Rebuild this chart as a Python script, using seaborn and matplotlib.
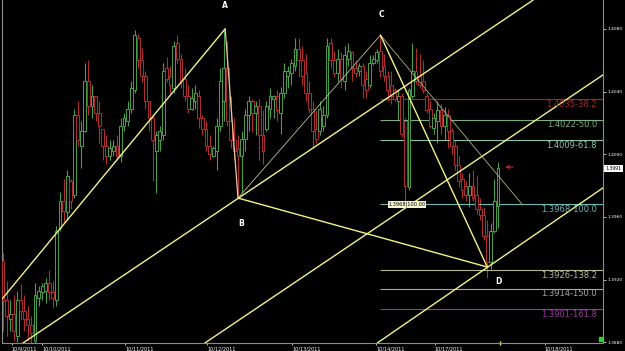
import numpy as np
import pandas as pd
import matplotlib
matplotlib.use("Agg")
import matplotlib.pyplot as plt
import matplotlib.transforms as mtransforms
import seaborn as sns
from matplotlib import font_manager

# ---------------- data (prices in 1e-4 units) ----------------
open_px = np.array([
    13932, 13907, 13895, 13898, 13884, 13907, 13900, 13895, 13891, 13881,
    13908, 13912, 13913, 13918, 13912, 13907, 13953, 13970, 13963, 13983,
    13974, 14025, 14005, 14015, 14047, 14031, 14037, 14026, 14016, 14005,
    13999, 14002, 14005, 13999, 14018, 14021, 14029, 14041, 14074, 14060,
    14050, 14034, 14023, 14002, 14009, 14012, 14055, 14050, 14042, 14071,
    14061, 14048, 14037, 14029, 14034, 14037, 14023, 14016, 14005, 13999,
    14002, 14018, 14034, 14055, 14021, 14009, 14004, 13999, 14010, 14025,
    14034, 14026, 14031, 14012, 14016, 14029, 14035, 14037, 14026, 14039,
    14050, 14052, 14056, 14067, 14060, 14052, 14039, 14029, 14016, 14015,
    14018, 14025, 14071, 14060, 14052, 14061, 14047, 14061, 14065, 14055,
    14053, 14056, 14048, 14044, 14058, 14060, 14066, 14056, 14050, 14044,
    14041, 14034, 14037, 14021, 13979, 14037, 14053, 14050, 14047, 14037,
    14029, 14017, 14021, 14028, 14018, 14025, 14015, 14005, 13993, 13984,
    13980, 13974, 13980, 13974, 13965, 13961, 13948, 13931, 13951, 13967]) / 1e4

close_px = np.array([
    13907, 13897, 13898, 13887, 13907, 13900, 13895, 13891, 13886, 13910,
    13913, 13916, 13918, 13912, 13908, 13951, 13970, 13964, 13986, 13970,
    14025, 14009, 14015, 14047, 14031, 14037, 14026, 14018, 14005, 13999,
    14004, 14005, 13999, 14018, 14023, 14029, 14042, 14076, 14060, 14050,
    14034, 14023, 14009, 14012, 14015, 14053, 14048, 14044, 14069, 14061,
    14047, 14037, 14029, 14036, 14039, 14023, 14016, 14005, 14000, 14004,
    14018, 14047, 14055, 14021, 14009, 14002, 13999, 14010, 14025, 14034,
    14026, 14031, 14012, 14002, 14031, 14037, 14037, 14028, 14039, 14053,
    14053, 14058, 14067, 14060, 14050, 14039, 14029, 14015, 14010, 14029,
    14025, 14069, 14060, 14052, 14061, 14048, 14063, 14066, 14055, 14052,
    14056, 14044, 14041, 14058, 14061, 14065, 14053, 14050, 14041, 14037,
    14035, 14037, 14013, 13980, 14041, 14053, 14047, 14044, 14041, 14028,
    14018, 14023, 14028, 14018, 14025, 14015, 14005, 13993, 13983, 13977,
    13974, 13980, 13972, 13965, 13961, 13948, 13931, 13951, 13970, 13991]) / 1e4

high_px = np.array([
    13937, 13919, 13907, 13910, 13913, 13917, 13910, 13903, 13897, 13918,
    13916, 13918, 13921, 13926, 13919, 13954, 13976, 13984, 13990, 13984,
    14029, 14034, 14021, 14058, 14060, 14044, 14037, 14034, 14016, 14012,
    14009, 14009, 14012, 14023, 14026, 14034, 14047, 14079, 14077, 14068,
    14053, 14034, 14025, 14015, 14018, 14058, 14062, 14056, 14072, 14076,
    14064, 14055, 14044, 14042, 14044, 14041, 14025, 14021, 14012, 14005,
    14023, 14055, 14080, 14072, 14037, 14023, 14012, 14015, 14029, 14037,
    14035, 14034, 14035, 14028, 14034, 14042, 14038, 14041, 14043, 14058,
    14056, 14061, 14074, 14074, 14069, 14064, 14047, 14034, 14028, 14034,
    14031, 14074, 14074, 14066, 14067, 14065, 14069, 14071, 14066, 14060,
    14058, 14058, 14053, 14063, 14063, 14067, 14076, 14064, 14053, 14053,
    14042, 14041, 14039, 14023, 14042, 14071, 14068, 14064, 14060, 14039,
    14034, 14026, 14034, 14032, 14030, 14029, 14017, 14009, 13999, 13988,
    13983, 13988, 13990, 13986, 13972, 13966, 13958, 13956, 13984, 13995]) / 1e4

low_px = np.array([
    13887, 13884, 13887, 13881, 13880, 13894, 13887, 13881, 13878, 13878,
    13903, 13907, 13905, 13907, 13902, 13903, 13951, 13956, 13958, 13965,
    13972, 14005, 13991, 14014, 14025, 14023, 14021, 14007, 13996, 13994,
    13996, 13999, 13996, 13995, 14015, 14018, 14026, 14039, 14055, 14046,
    14029, 14015, 13983, 13975, 14002, 14009, 14046, 14039, 14039, 14058,
    14042, 14034, 14026, 14028, 14029, 14017, 14012, 14002, 13996, 13998,
    13990, 14015, 14021, 14018, 14004, 13996, 13972, 13975, 14002, 14015,
    14014, 14012, 13996, 13994, 14015, 14023, 14023, 14021, 14013, 14036,
    14042, 14044, 14053, 14049, 14044, 14034, 14026, 14004, 14007, 14012,
    14015, 14023, 14055, 14049, 14047, 14042, 14041, 14056, 14047, 14049,
    14050, 14036, 14036, 14042, 14057, 14058, 14049, 14047, 14034, 14032,
    14034, 14021, 14011, 13969, 13977, 14036, 14045, 14042, 14039, 14026,
    14017, 14013, 14007, 14013, 14009, 14004, 14000, 13990, 13979, 13972,
    13970, 13966, 13970, 13962, 13958, 13945, 13921, 13927, 13950, 13953]) / 1e4

date_labels = ["10/9/2011", "10/10/2011", "10/11/2011", "10/12/2011",
               "10/13/2011", "10/14/2011", "10/17/2011", "10/18/2011"]
date_pos = [2.5, 11.0, 34.3, 57.3, 81.2, 104.8, 121.3, 152.2]
price_ticks = [1.4080, 1.4040, 1.4000, 1.3960, 1.3920, 1.3880]

# harmonic pattern points (bar index, price)
pattern_names = ["A", "B", "C", "D"]
pattern_idx = [62.4, 66.0, 106.0, 136.0]
pattern_price = [1.4080, 1.3972, 1.4076, 1.3928]

# fibonacci extension levels
fib_ratios = ["38.2", "50.0", "61.8", "100.0", "138.2", "150.0", "161.8"]
fib_prices = [1.4035, 1.4022, 1.4009, 1.3968, 1.3926, 1.3914, 1.3901]
fib_colors = ["#a02828", "#7fae7f", "#8fc0b0", "#6fb8b8", "#b8b890", "#a8a8a8", "#9a3a9a"]
fib_start = 106

# trend / channel lines: (bar indices, prices)
xa_line = ([-0.84, 62.4], [1.3906, 1.4080])
chan_mid = ([5.6, 148.9], [1.38795, 1.40984])
chan_low = ([56.7, 168.5], [1.38795, 1.40506])
chan_d = ([105.1, 168.5], [1.38795, 1.39785])
c_line = ([106.0, 145.8], [1.4076, 1.3968])

last_price = 1.3991

# ---------------- style ----------------
sns.set_theme(style="dark", rc={"axes.facecolor": "black", "figure.facecolor": "black"})
plt.rcParams["font.family"] = ["DejaVu Sans"]

fig = plt.figure(figsize=(6.25, 3.51), dpi=100, facecolor="black")
ax = fig.add_axes([2 / 625, 8 / 351, 601 / 625, 343 / 351])
ax.set_facecolor("black")
ax.set_xlim(-0.28, 168.5)
ax.set_ylim(1.38795, 1.40984)

# ---------------- candles ----------------
idx = np.arange(len(open_px))
up = close_px >= open_px
green = "#4aa04a"
red = "#b02e2e"
cols = np.where(up, green, red)
hi = np.maximum(high_px, np.maximum(open_px, close_px))
lo = np.minimum(low_px, np.minimum(open_px, close_px))
ax.vlines(idx, lo, hi, colors=cols, linewidth=0.8, zorder=2)
body_bottom = np.minimum(open_px, close_px)
body_h = np.maximum(np.abs(close_px - open_px), 0.00006)
ax.bar(idx, body_h, bottom=body_bottom, width=0.8, color="black",
       edgecolor=cols, linewidth=0.7, zorder=3)

# ---------------- lines ----------------
yellow = "#f2f28a"
def seg(xs, ys, color, lw, z=4):
    d = pd.DataFrame({"x": xs, "y": ys})
    sns.lineplot(data=d, x="x", y="y", ax=ax, color=color, linewidth=lw,
                 estimator=None, sort=False, zorder=z)

seg(*xa_line, yellow, 1.0)
seg(*chan_mid, yellow, 1.0)
seg(*chan_low, yellow, 1.0)
seg(*chan_d, yellow, 1.0)
seg(*c_line, "#b0b080", 0.6)
# pattern legs
pA, pB, pC, pD = [(pattern_idx[k], pattern_price[k]) for k in range(4)]
seg([pA[0], pB[0]], [pA[1], pB[1]], "#e8c8a0", 0.9)
seg([pB[0], pC[0]], [pB[1], pC[1]], "#c0c098", 0.6)
seg([pC[0], pD[0]], [pC[1], pD[1]], yellow, 1.0)
seg([pB[0], pD[0]], [pB[1], pD[1]], yellow, 1.0)

# ---------------- fib levels ----------------
xmax = ax.get_xlim()[1]
tr_right = mtransforms.blended_transform_factory(ax.transAxes, ax.transData)
avail = {f.name for f in font_manager.fontManager.ttflist}
narrow = "Liberation Sans Narrow" if "Liberation Sans Narrow" in avail else "DejaVu Sans"
for r, p, c in zip(fib_ratios, fib_prices, fib_colors):
    ax.hlines(p, fib_start, xmax, colors=c, linewidth=0.8, zorder=2)
    ax.text(0.99, p - 0.00003, f"{p:.4f}-{r}", transform=tr_right, ha="right", va="top",
            color=c, fontsize=7.5 if narrow != "DejaVu Sans" else 6, family=narrow, zorder=5)

ax.text(113.5, 1.3968, "1.3968|100.00", fontsize=3.6, color="black", ha="center", va="center",
        bbox=dict(boxstyle="square,pad=0.15", facecolor="#f4f4d2", edgecolor="none"), zorder=6)

# pattern labels
offs = {"A": (0, 23), "B": (3, -25), "C": (1, 21), "D": (11, -14)}
for n, xi, pi in zip(pattern_names, pattern_idx, pattern_price):
    ax.annotate(n, (xi, pi), xytext=offs[n], textcoords="offset pixels", color="white",
                fontsize=5.5, fontweight="bold", ha="center", va="center", zorder=6)

# current price marker
ax.annotate("", xy=(140.3, last_price + 0.00008), xytext=(144.0, last_price + 0.00008),
            arrowprops=dict(arrowstyle="->", color="#c03030", lw=0.8, mutation_scale=5))
ax.text(1.004, last_price, f"{last_price:.4f}", transform=tr_right, ha="left", va="center",
        fontsize=3.3, color="black", clip_on=False,
        bbox=dict(boxstyle="square,pad=0.25", facecolor="white", edgecolor="none"))
ax.plot([0.997], [0.012], marker="s", markersize=2.5, color="#30d030",
        transform=ax.transAxes, clip_on=False)
ax.plot([139.6], [1.38795], marker="|", markersize=3, color=yellow, clip_on=False)

# ---------------- axes ----------------
for s in ["left", "bottom", "right"]:
    ax.spines[s].set_visible(True)
    ax.spines[s].set_color("#8c8c8c")
    ax.spines[s].set_linewidth(0.8)
ax.spines["top"].set_visible(False)
ax.yaxis.tick_right()
ax.set_yticks(price_ticks)
ax.set_yticklabels([f"{t:.4f}" for t in price_ticks])
ax.tick_params(axis="y", colors="white", labelsize=3.2, length=2, width=0.5, pad=1,
               right=True, left=False)
ax.set_xticks(date_pos)
ax.set_xticklabels(date_labels, ha="left")
ax.tick_params(axis="x", colors="white", labelsize=3.6, length=1.5, width=0.5, pad=1,
               bottom=True)
ax.set_xlabel("")
ax.set_ylabel("")
ax.grid(False)

fig.savefig("out.png", dpi=100, facecolor="black")
